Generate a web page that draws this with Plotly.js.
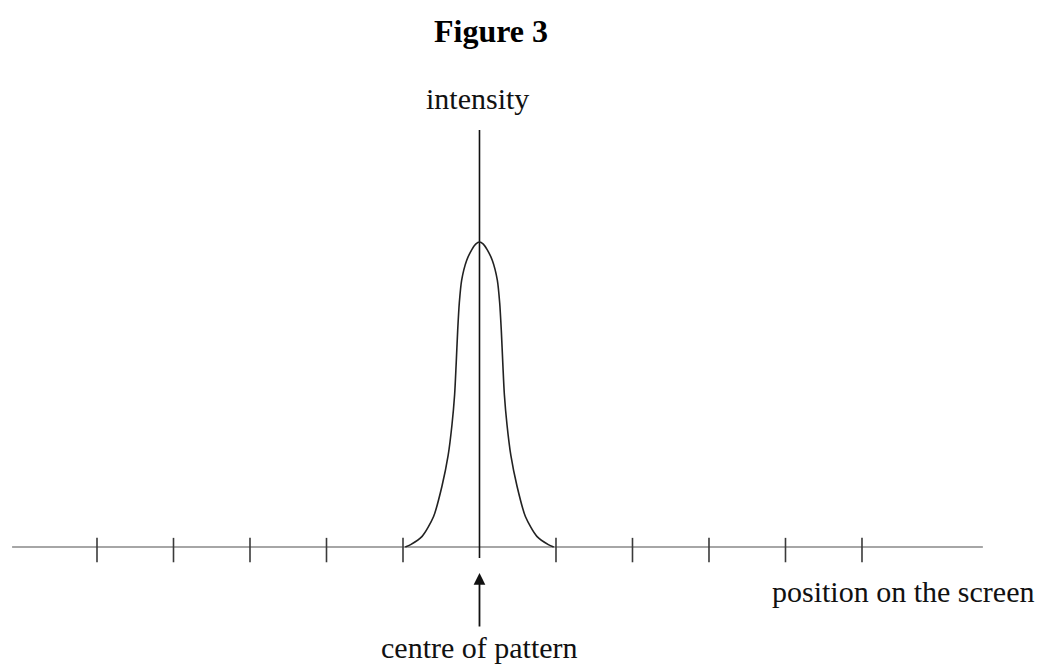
<!DOCTYPE html>
<html>
<head>
<meta charset="utf-8">
<script src="https://cdn.plot.ly/plotly-3.0.1.min.js"></script>
<style>html,body{margin:0;padding:0;background:#fff;}#chart{width:1040px;height:666px;}</style>
</head>
<body>
<div id="chart"></div>
<script>
// Intensity profile (position in tick units, intensity relative to peak)
const curveX = [-0.970, -0.900, -0.750, -0.600, -0.490, -0.410, -0.360, -0.325, -0.305, -0.285, -0.264, -0.233, -0.167, -0.100, -0.050, 0,
                0.050, 0.100, 0.167, 0.233, 0.264, 0.285, 0.305, 0.325, 0.360, 0.410, 0.490, 0.600, 0.750, 0.900, 0.970];
const curveY = [0, 0.008, 0.035, 0.100, 0.200, 0.300, 0.400, 0.500, 0.600, 0.710, 0.800, 0.875, 0.940, 0.975, 0.993, 1,
                0.993, 0.975, 0.940, 0.875, 0.800, 0.710, 0.600, 0.500, 0.400, 0.300, 0.200, 0.100, 0.035, 0.008, 0];
// Tick positions along the screen axis
const tickPositions = [-5, -4, -3, -2, -1, 1, 2, 3, 4, 5];
// Axis extents
const axisStart = -6.11, axisEnd = 6.58;
const intensityTop = 1.367, intensityBottom = -0.036;
const tickTop = 0.03, tickBottom = -0.05;
// Labels
const titleText = 'Figure 3';
const yLabel = 'intensity';
const xLabel = 'position on the screen';
const arrowLabel = 'centre of pattern';

const tx = [], ty = [];
tickPositions.forEach(p => { tx.push(p, p, null); ty.push(tickTop, tickBottom, null); });

const traces = [
  {x: [axisStart, axisEnd], y: [0, 0], mode: 'lines', line: {color: '#a6a6a6', width: 2.2}, hoverinfo: 'skip'},
  {x: tx, y: ty, mode: 'lines', line: {color: '#3a3a3a', width: 1.6}, hoverinfo: 'skip'},
  {x: [0, 0], y: [intensityBottom, intensityTop], mode: 'lines', line: {color: '#111', width: 1.6}, hoverinfo: 'skip'},
  {x: curveX, y: curveY, mode: 'lines', line: {color: '#222', width: 1.6, shape: 'spline', smoothing: 0.7}, hoverinfo: 'skip'}
];

const serif = 'Liberation Serif, Times New Roman, serif';
const layout = {
  width: 1040, height: 666,
  margin: {l: 0, r: 0, t: 0, b: 0},
  paper_bgcolor: '#fff', plot_bgcolor: '#fff',
  showlegend: false,
  title: {text: ''},
  xaxis: {range: [-6.268, 7.327], visible: false, fixedrange: true},
  yaxis: {range: [-0.390, 1.793], visible: false, fixedrange: true},
  annotations: [
    {xref: 'paper', yref: 'paper', x: 491/1040, y: 1 - 31/666, text: '<b>' + titleText + '</b>', showarrow: false,
     font: {family: serif, size: 32, color: '#000'}, xanchor: 'center', yanchor: 'middle'},
    {x: -0.02, y: 1.47, text: yLabel, showarrow: false, font: {family: serif, size: 30, color: '#111'}, xanchor: 'center', yanchor: 'middle'},
    {x: 5.53, y: -0.145, text: xLabel, showarrow: false, font: {family: serif, size: 30, color: '#111'}, xanchor: 'center', yanchor: 'middle'},
    {x: 0, y: -0.33, text: arrowLabel, showarrow: false, font: {family: serif, size: 30, color: '#111'}, xanchor: 'center', yanchor: 'middle'},
    {x: 0, y: -0.085, ax: 0, ay: 55, text: '', showarrow: true, arrowhead: 2, arrowsize: 1.3, arrowwidth: 1.8, arrowcolor: '#111', standoff: 0}
  ]
};
Plotly.newPlot('chart', traces, layout, {staticPlot: true, displayModeBar: false});
</script>
</body>
</html>
